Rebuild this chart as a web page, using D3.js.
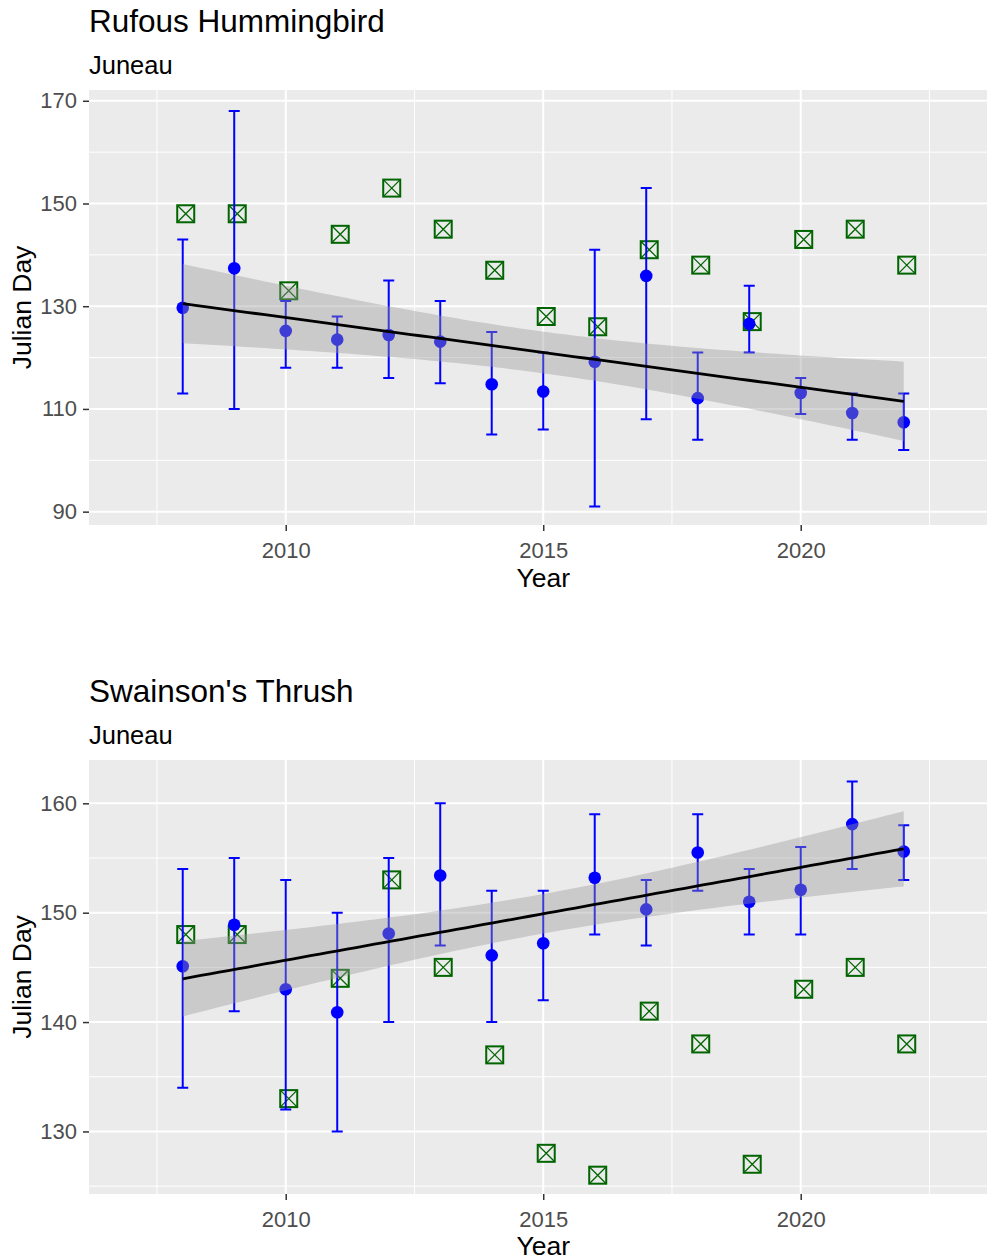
<!DOCTYPE html>
<html><head><meta charset="utf-8">
<script src="https://cdn.jsdelivr.net/npm/d3@7"></script>
<style>
body{margin:0;background:#fff}
text{font-family:"Liberation Sans",Arial,sans-serif}
</style>
</head><body>
<svg id="chart" width="987" height="1260"></svg>
<script>
// ---------------- data ----------------
const years = [2008,2009,2010,2011,2012,2013,2014,2015,2016,2017,2018,2019,2020,2021,2022];
// green squares (same reference series shown in both panels)
const referenceDays = [148,148,133,144,153,145,137,128,126,141,138,127,143,145,138];

const rufousMean = [129.7,137.4,125.2,123.5,124.4,123.1,114.8,113.4,119.2,135.9,112.1,126.6,113.1,109.2,107.4];
const rufousLow  = [113,110,118,118,116,115,105,106,91,108,104,121,109,104,102];
const rufousHigh = [143,168,131,128,135,131,125,121,141,153,121,134,116,113,113];

const thrushMean = [145.1,148.9,143.0,140.9,148.1,153.4,146.1,147.2,153.2,150.3,155.5,151.0,152.1,158.1,155.6];
const thrushLow  = [134,141,132,130,140,147,140,142,148,147,152,148,148,154,153];
const thrushHigh = [154,155,153,150,155,160,152,152,159,153,159,154,156,162,158];

const xMajorTicks = [2010,2015,2020];
const xMinorTicks = [2007.5,2012.5,2017.5,2022.5];
const rufousYTicks = [90,110,130,150,170];
const rufousYMinor = [100,120,140,160];
const thrushYTicks = [130,140,150,160];
const thrushYMinor = [125,135,145,155];

const panels = [
  {title:"Rufous Hummingbird", subtitle:"Juneau", mean:rufousMean, low:rufousLow, high:rufousHigh,
   yTicks:rufousYTicks, yMinor:rufousYMinor, yDomain:[87.4,172.1],
   titleY:32, subY:74, top:90, bottom:525, tickY:558, xTitleY:587},
  {title:"Swainson's Thrush", subtitle:"Juneau", mean:thrushMean, low:thrushLow, high:thrushHigh,
   yTicks:thrushYTicks, yMinor:thrushYMinor, yDomain:[124.28,163.96],
   titleY:702, subY:744, top:760, bottom:1194, tickY:1227, xTitleY:1255}
];

// ---------------- layout ----------------
const svg = d3.select("#chart");
const left = 89;
const x = d3.scaleLinear().domain([2006.18, 2023.82]).range([left, left + 17.64*51.5]);
const T_CRIT = 2.160369; // qt(0.975, df = 13)
const squareNudge = 3; // px, squares sit slightly right of the year position

function linFit(xs, ys){
  const n = xs.length, mx = d3.mean(xs), my = d3.mean(ys);
  let sxx=0, sxy=0;
  xs.forEach((v,i)=>{sxx+=(v-mx)*(v-mx); sxy+=(v-mx)*(ys[i]-my);});
  const b = sxy/sxx, a = my - b*mx;
  let sse=0; xs.forEach((v,i)=>{const r=ys[i]-(a+b*v); sse+=r*r;});
  const s = Math.sqrt(sse/(n-2));
  return t => {
    const fit = a + b*t;
    const se = s*Math.sqrt(1/n + (t-mx)*(t-mx)/sxx);
    return {t, fit, lo: fit - T_CRIT*se, hi: fit + T_CRIT*se};
  };
}

panels.forEach(p => {
  const y = d3.scaleLinear().domain(p.yDomain).range([p.bottom, p.top]);
  const g = svg.append("g");

  // titles
  g.append("text").attr("x", left).attr("y", p.titleY).attr("font-size", 31.5).attr("fill","#000").text(p.title);
  g.append("text").attr("x", left).attr("y", p.subY).attr("font-size", 25.5).attr("fill","#000").text(p.subtitle);

  // panel background
  g.append("rect").attr("x", left).attr("y", p.top).attr("width", x.range()[1]-left).attr("height", p.bottom-p.top).attr("fill","#EBEBEB");

  // minor grid
  g.selectAll(null).data(p.yMinor).join("line")
    .attr("x1", left).attr("x2", x.range()[1]).attr("y1", d=>y(d)).attr("y2", d=>y(d))
    .attr("stroke","#fff").attr("stroke-width",1);
  g.selectAll(null).data(xMinorTicks).join("line")
    .attr("y1", p.top).attr("y2", p.bottom).attr("x1", d=>x(d)).attr("x2", d=>x(d))
    .attr("stroke","#fff").attr("stroke-width",1);
  // major grid
  g.selectAll(null).data(p.yTicks).join("line")
    .attr("x1", left).attr("x2", x.range()[1]).attr("y1", d=>y(d)).attr("y2", d=>y(d))
    .attr("stroke","#fff").attr("stroke-width",2);
  g.selectAll(null).data(xMajorTicks).join("line")
    .attr("y1", p.top).attr("y2", p.bottom).attr("x1", d=>x(d)).attr("x2", d=>x(d))
    .attr("stroke","#fff").attr("stroke-width",2);

  // y axis
  const ya = g.append("g").attr("transform", `translate(${left},0)`)
    .call(d3.axisLeft(y).tickValues(p.yTicks).tickSize(6).tickPadding(6).tickFormat(d3.format("d")));
  ya.select(".domain").remove();
  ya.selectAll(".tick line").attr("stroke","#333").attr("stroke-width",1.5);
  ya.selectAll(".tick text").attr("fill","#4D4D4D").attr("font-size",22)
    .attr("font-family",'"Liberation Sans",Arial,sans-serif');

  // x axis
  const xa = g.append("g").attr("transform", `translate(0,${p.bottom})`)
    .call(d3.axisBottom(x).tickValues(xMajorTicks).tickSize(6).tickPadding(0).tickFormat(d3.format("d")));
  xa.select(".domain").remove();
  xa.selectAll(".tick line").attr("stroke","#333").attr("stroke-width",1.5);
  xa.selectAll(".tick text").attr("fill","#4D4D4D").attr("font-size",22)
    .attr("font-family",'"Liberation Sans",Arial,sans-serif')
    .attr("dy",null).attr("y", p.tickY - p.bottom);

  // axis titles
  g.append("text").attr("x", (left + x.range()[1])/2).attr("y", p.xTitleY)
    .attr("text-anchor","middle").attr("font-size",26.5).attr("fill","#000").text("Year");
  g.append("text").attr("transform", `translate(31,${(p.top+p.bottom)/2}) rotate(-90)`)
    .attr("text-anchor","middle").attr("font-size",26.5).attr("fill","#000").text("Julian Day");

  // green reference squares (shape: square with X)
  const sq = 8.5;
  const sqG = g.selectAll(null).data(years.map((yr,i)=>({yr, v:referenceDays[i]}))).join("g")
    .attr("transform", d=>`translate(${x(d.yr)+squareNudge},${y(d.v)})`);
  sqG.append("rect").attr("x",-sq).attr("y",-sq).attr("width",2*sq).attr("height",2*sq)
    .attr("fill","none").attr("stroke","#006400").attr("stroke-width",2);
  sqG.append("path").attr("d",`M${-sq},${-sq}L${sq},${sq}M${sq},${-sq}L${-sq},${sq}`)
    .attr("stroke","#006400").attr("stroke-width",1.3);

  // error bars
  const eb = years.map((yr,i)=>({yr, m:p.mean[i], lo:p.low[i], hi:p.high[i]}));
  const cap = 5.5;
  g.selectAll(null).data(eb).join("path")
    .attr("d", d=>`M${x(d.yr)},${y(d.lo)}V${y(d.hi)}M${x(d.yr)-cap},${y(d.hi)}H${x(d.yr)+cap}M${x(d.yr)-cap},${y(d.lo)}H${x(d.yr)+cap}`)
    .attr("stroke","#0000FF").attr("stroke-width",2).attr("fill","none");
  // mean points
  g.selectAll(null).data(eb).join("circle")
    .attr("cx", d=>x(d.yr)).attr("cy", d=>y(d.m)).attr("r",6.3).attr("fill","#0000FF");

  // linear smooth with 95% CI
  const f = linFit(years, p.mean);
  const xs = d3.range(80).map(i => years[0] + i*(years[years.length-1]-years[0])/79);
  const pts = xs.map(f);
  g.append("path").datum(pts)
    .attr("d", d3.area().x(d=>x(d.t)).y0(d=>y(d.lo)).y1(d=>y(d.hi)))
    .attr("fill","#999999").attr("fill-opacity",0.4);
  g.append("path").datum(pts)
    .attr("d", d3.line().x(d=>x(d.t)).y(d=>y(d.fit)))
    .attr("fill","none").attr("stroke","#000").attr("stroke-width",2.8);
});
</script>
</body></html>
